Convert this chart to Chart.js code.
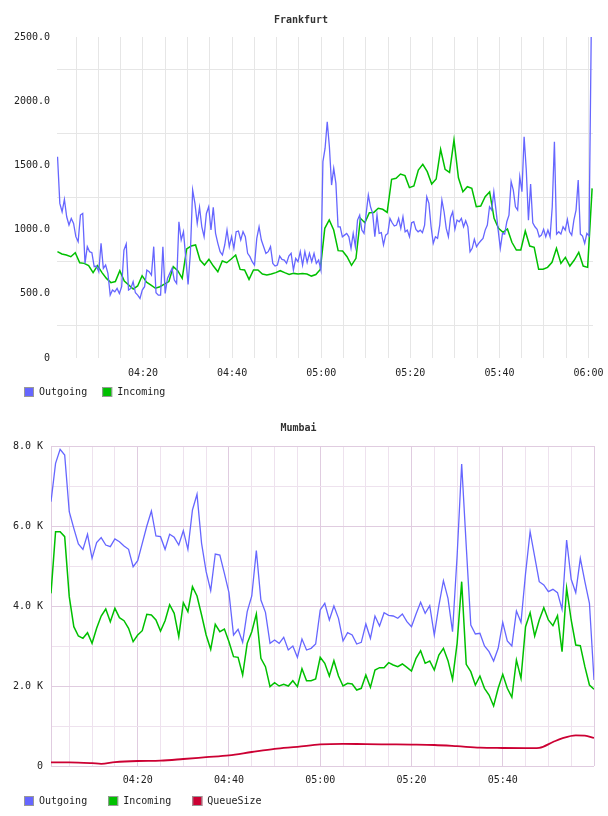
<!DOCTYPE html>
<html>
<head>
<meta charset="utf-8">
<script src="https://cdn.jsdelivr.net/npm/chart.js@4.4.0/dist/chart.umd.min.js"></script>
<style>
    html, body { margin: 0; padding: 0; background: #fff; }
    canvas { display: block; }
</style>
</head>
<body>
<canvas id="frankfurtChart" width="608" height="407"></canvas>
<canvas id="mumbaiChart" width="608" height="409"></canvas>
<script>
// all times are minutes after 04:00

// Frankfurt outgoing, before the jump at 05:00
const frankfurtOutStartA = 0.82;
const frankfurtOutStepA = 0.514;
const frankfurtOutgoingA = [
    1568, 1204, 1139, 1235, 1100, 1036, 1087, 1048, 945, 906, 1113, 1126, 737, 867, 828, 820, 711, 716, 672, 893,
    698, 724, 659, 490, 529, 516, 542, 503, 555, 841, 888, 529, 542, 594, 508, 490, 464, 529, 555, 685,
    672, 646, 867, 508, 490, 490, 867, 503, 620, 659, 698, 607, 581, 1061, 919, 984, 776, 573, 815, 1308,
    1204, 1048, 1173, 1022, 945, 1126, 1178, 997, 1173, 971, 893, 828, 802, 880, 997, 867, 945, 854, 984, 989,
    919, 984, 945, 815, 789, 750, 724, 932, 1022, 919, 867, 815, 828, 867, 737, 716, 724, 794, 768, 763,
    737, 794, 815, 685, 776, 750, 828, 724, 828, 745, 815, 750, 815, 737, 763, 685
];
// Frankfurt outgoing, from 05:00 on
const frankfurtOutStartB = 60.38;
const frankfurtOutStepB = 0.4856;
const frankfurtOutgoingB = [
    1529, 1632, 1840, 1645, 1347, 1477, 1360, 1022, 1022, 944, 957, 970, 944, 854, 970, 867, 1074, 1113, 996, 970,
    1126, 1269, 1178, 1126, 944, 1113, 970, 976, 880, 957, 970, 1087, 1053, 1028, 1035, 1087, 1009, 1100, 983, 996,
    944, 1053, 1061, 1002, 983, 996, 976, 1035, 1256, 1204, 1022, 893, 944, 932, 1035, 1230, 1139, 1009, 944, 1095,
    1139, 1002, 1074, 1061, 1087, 1022, 1069, 1022, 828, 854, 924, 867, 893, 913, 932, 996, 1035, 1178, 1152, 1295,
    1152, 996, 854, 970, 965, 1061, 1113, 1373, 1308, 1178, 1152, 1412, 1295, 1723, 1464, 1074, 1355, 1053, 1022, 1002,
    944, 957, 1002, 944, 996, 944, 1178, 1684, 965, 983, 965, 1022, 996, 1079, 983, 957, 1074, 1152, 1386, 965,
    950, 893, 970, 950, 2500
];
const frankfurtInStart = 0.8;
const frankfurtInStep = 1;
const frankfurtIncoming = [
    828, 810, 802, 789, 820, 742, 737, 719, 665, 719, 665, 620, 587, 595, 680, 600, 568, 537, 561, 641,
    590, 568, 543, 555, 576, 595, 711, 680, 620, 849, 872, 880, 763, 724, 768, 716, 672, 755, 742, 771,
    802, 690, 685, 612, 685, 685, 654, 646, 654, 665, 680, 665, 651, 659, 654, 659, 654, 638, 650, 690,
    1010, 1075, 997, 836, 833, 789, 722, 776, 1088, 1054, 1132, 1134, 1166, 1158, 1134, 1392, 1400, 1433, 1420, 1327,
    1340, 1464, 1508, 1451, 1355, 1394, 1625, 1470, 1446, 1698, 1404, 1295, 1334, 1321, 1178, 1184, 1256, 1293, 1088, 1010,
    979, 1005, 901, 841, 841, 989, 872, 862, 691, 691, 706, 745, 854, 737, 784, 716, 763, 823, 716, 706,
    1321
];

const mumbaiStart = 1;
const mumbaiStep = 1;
const mumbaiOutgoing = [
    6608, 7567, 7917, 7775, 6358, 5942, 5550, 5417, 5792, 5192, 5583, 5708, 5525, 5483, 5675, 5608, 5500, 5417, 4983, 5133,
    5567, 6000, 6375, 5750, 5733, 5417, 5792, 5717, 5525, 5883, 5417, 6400, 6792, 5567, 4858, 4383, 5300, 5275, 4817, 4333,
    3275, 3417, 3092, 3858, 4250, 5383, 4150, 3842, 3067, 3150, 3067, 3217, 2900, 3000, 2717, 3175, 2900, 2942, 3050,
    3900, 4067, 3650, 4000, 3692, 3125, 3333, 3275, 3050, 3092, 3550, 3192, 3750, 3500, 3833, 3767, 3750, 3692, 3800, 3608,
    3483, 3800, 4092, 3817, 4008, 3275, 4008, 4633, 4192, 3358, 5250, 7550, 5500, 3525, 3300, 3317, 3000, 2858, 2625, 2942,
    3592, 3125, 3000, 3875, 3592, 4817, 5858, 5233, 4608, 4525, 4358, 4417, 4333, 3917, 5650, 4667, 4333, 5192, 4608, 4067,
    2150
];
const mumbaiIncoming = [
    4317, 5858, 5858, 5733, 4233, 3483, 3250, 3192, 3333, 3067, 3442, 3750, 3925, 3608, 3942, 3708, 3633, 3442, 3108, 3275,
    3383, 3792, 3775, 3650, 3375, 3633, 4033, 3817, 3233, 4083, 3858, 4483, 4250, 3775, 3275, 2917, 3542, 3358, 3425, 3108,
    2733, 2717, 2275, 3067, 3358, 3800, 2692, 2483, 1983, 2083, 2000, 2042, 2000, 2133, 1983, 2433, 2133, 2133, 2175,
    2717, 2567, 2250, 2633, 2250, 2000, 2067, 2050, 1900, 1942, 2275, 1967, 2400, 2458, 2458, 2583, 2525, 2483, 2550, 2467,
    2375, 2692, 2883, 2567, 2625, 2400, 2775, 2942, 2633, 2167, 3067, 4608, 2542, 2358, 2025, 2250, 1942, 1775, 1500, 1942,
    2292, 1942, 1717, 2650, 2192, 3483, 3833, 3250, 3650, 3958, 3650, 3508, 3758, 2858, 4442, 3650, 3025, 3008, 2483, 2025,
    1917
];
const mumbaiQueueTimes = [1, 5, 10, 12, 15, 20, 25, 30, 35, 40, 45, 50, 55, 60, 65, 70, 75, 80, 85, 90, 95, 100, 105, 108, 111, 113, 116, 118, 120];
const mumbaiQueueSize = [90, 90, 70, 55, 95, 125, 135, 175, 220, 265, 350, 430, 480, 540, 555, 545, 540, 535, 525, 495, 460, 450, 445, 455, 600, 690, 765, 760, 700];

const OUT_COLOR = '#6666ff';
const IN_COLOR = '#00c000';
const QUEUE_COLOR = '#cc0033';
const FONT = { family: "'DejaVu Sans Mono', monospace", size: 10 };
const TEXT_COLOR = '#222';

const toPoints = (values, start, step) => values.map((v, i) => ({ x: start + i * step, y: v }));

const timeLabel = (v) => {
    const h = 4 + Math.floor(v / 60);
    const m = v % 60;
    return '0' + h + ':' + (m < 10 ? '0' + m : m);
};

// a grid line every 5 minutes, labels only every 20
const fiveMinuteTicks = (scale) => {
    const ticks = [];
    for (let v = 5; v <= scale.max + 1e-9; v += 5) ticks.push({ value: v });
    scale.ticks = ticks;
};

// fixed axis height, and let the last label hang over the edge instead of shrinking the plot
const fixedXAxis = (height) => (s) => {
    s.height = height;
    s.paddingLeft = 0;
    s.paddingRight = 0;
};

// little legend with grey-bordered squares, drawn under the plot
const boxLegend = {
    id: 'boxLegend',
    afterDraw(chart, args, opts) {
        const ctx = chart.ctx;
        ctx.save();
        ctx.font = FONT.size + 'px ' + FONT.family;
        ctx.textBaseline = 'middle';
        let x = opts.left;
        chart.data.datasets.forEach(ds => {
            ctx.fillStyle = ds.borderColor;
            ctx.fillRect(x, opts.top, 10, 10);
            ctx.strokeStyle = '#999';
            ctx.lineWidth = 1;
            ctx.strokeRect(x + 0.5, opts.top + 0.5, 9, 9);
            ctx.fillStyle = TEXT_COLOR;
            ctx.fillText(ds.label, x + 15, opts.top + 5.5);
            x += 15 + ctx.measureText(ds.label).width + opts.gap;
        });
        ctx.restore();
    }
};

const lineDataset = (label, color, data, width) => ({
    label: label,
    data: data,
    borderColor: color,
    backgroundColor: color,
    borderWidth: width,
    pointRadius: 0,
    tension: 0,
    fill: false
});

// Frankfurt
const frankfurtOutPoints = toPoints(frankfurtOutgoingA, frankfurtOutStartA, frankfurtOutStepA)
    .concat(toPoints(frankfurtOutgoingB, frankfurtOutStartB, frankfurtOutStepB));

new Chart(document.getElementById('frankfurtChart').getContext('2d'), {
    type: 'line',
    data: {
        datasets: [
            lineDataset('Outgoing', OUT_COLOR, frankfurtOutPoints, 1.3),
            lineDataset('Incoming', IN_COLOR, toPoints(frankfurtIncoming, frankfurtInStart, frankfurtInStep), 1.5)
        ]
    },
    plugins: [boxLegend],
    options: {
        responsive: false,
        animation: false,
        devicePixelRatio: 1,
        layout: { padding: { left: 9, right: 15, top: 0, bottom: 0 } },
        plugins: {
            title: {
                display: true,
                text: 'Frankfurt',
                color: '#333',
                font: FONT,
                padding: { top: 14, bottom: 11 }
            },
            legend: { display: false },
            boxLegend: { left: 24, top: 387, gap: 15 },
            tooltip: { enabled: false }
        },
        scales: {
            x: {
                type: 'linear',
                min: 0.7,
                max: 121,
                afterBuildTicks: fiveMinuteTicks,
                afterFit: fixedXAxis(49),
                ticks: {
                    autoSkip: false,
                    maxRotation: 0,
                    padding: 9,
                    font: FONT,
                    color: TEXT_COLOR,
                    callback: (v) => (v % 20 === 0 ? timeLabel(v) : '')
                },
                grid: { color: '#e6e6e6', drawTicks: false },
                border: { display: false }
            },
            y: {
                min: 0,
                max: 2500,
                afterFit: (s) => { s.width = 48; },
                ticks: {
                    stepSize: 250,
                    padding: 7,
                    font: FONT,
                    color: TEXT_COLOR,
                    callback: (v) => (v % 500 === 0 ? (v === 0 ? '0' : v.toFixed(1)) : '')
                },
                grid: {
                    color: (ctx) => (ctx.tick && ctx.tick.value % 500 !== 0 ? '#e6e6e6' : 'rgba(0,0,0,0)'),
                    drawTicks: false
                },
                border: { display: false }
            }
        }
    }
});

// Mumbai
const PINK_DARK = '#e0cce0';
const PINK_LIGHT = '#eee2ee';

new Chart(document.getElementById('mumbaiChart').getContext('2d'), {
    type: 'line',
    data: {
        datasets: [
            lineDataset('Outgoing', OUT_COLOR, toPoints(mumbaiOutgoing, mumbaiStart, mumbaiStep), 1.3),
            lineDataset('Incoming', IN_COLOR, toPoints(mumbaiIncoming, mumbaiStart, mumbaiStep), 1.5),
            Object.assign(
                lineDataset('QueueSize', QUEUE_COLOR, mumbaiQueueTimes.map((t, i) => ({ x: t, y: mumbaiQueueSize[i] })), 1.8),
                { cubicInterpolationMode: 'monotone' }
            )
        ]
    },
    plugins: [boxLegend],
    options: {
        responsive: false,
        animation: false,
        devicePixelRatio: 1,
        layout: { padding: { left: 3, right: 14, top: 0, bottom: 0 } },
        plugins: {
            title: {
                display: true,
                text: 'Mumbai',
                color: '#333',
                font: FONT,
                padding: { top: 15, bottom: 12 }
            },
            legend: { display: false },
            boxLegend: { left: 24, top: 389, gap: 21 },
            tooltip: { enabled: false }
        },
        scales: {
            x: {
                type: 'linear',
                min: 1,
                max: 120,
                afterBuildTicks: fiveMinuteTicks,
                afterFit: fixedXAxis(50),
                ticks: {
                    autoSkip: false,
                    maxRotation: 0,
                    padding: 8,
                    font: FONT,
                    color: TEXT_COLOR,
                    callback: (v) => (v % 20 === 0 && v < 120 ? timeLabel(v) : '')
                },
                grid: {
                    color: (ctx) => (ctx.tick && (ctx.tick.value % 20 === 0) ? PINK_DARK : PINK_LIGHT),
                    drawTicks: false
                },
                border: { display: false }
            },
            y: {
                min: 0,
                max: 8000,
                afterFit: (s) => { s.width = 48; },
                ticks: {
                    stepSize: 1000,
                    padding: 8,
                    font: FONT,
                    color: TEXT_COLOR,
                    callback: (v) => (v % 2000 === 0 ? (v === 0 ? '0' : (v / 1000).toFixed(1) + ' K') : '')
                },
                grid: {
                    color: (ctx) => (ctx.tick && ctx.tick.value % 2000 === 0 ? PINK_DARK : PINK_LIGHT),
                    drawTicks: false
                },
                border: { display: true, color: PINK_DARK }
            }
        }
    }
});
</script>
</body>
</html>
